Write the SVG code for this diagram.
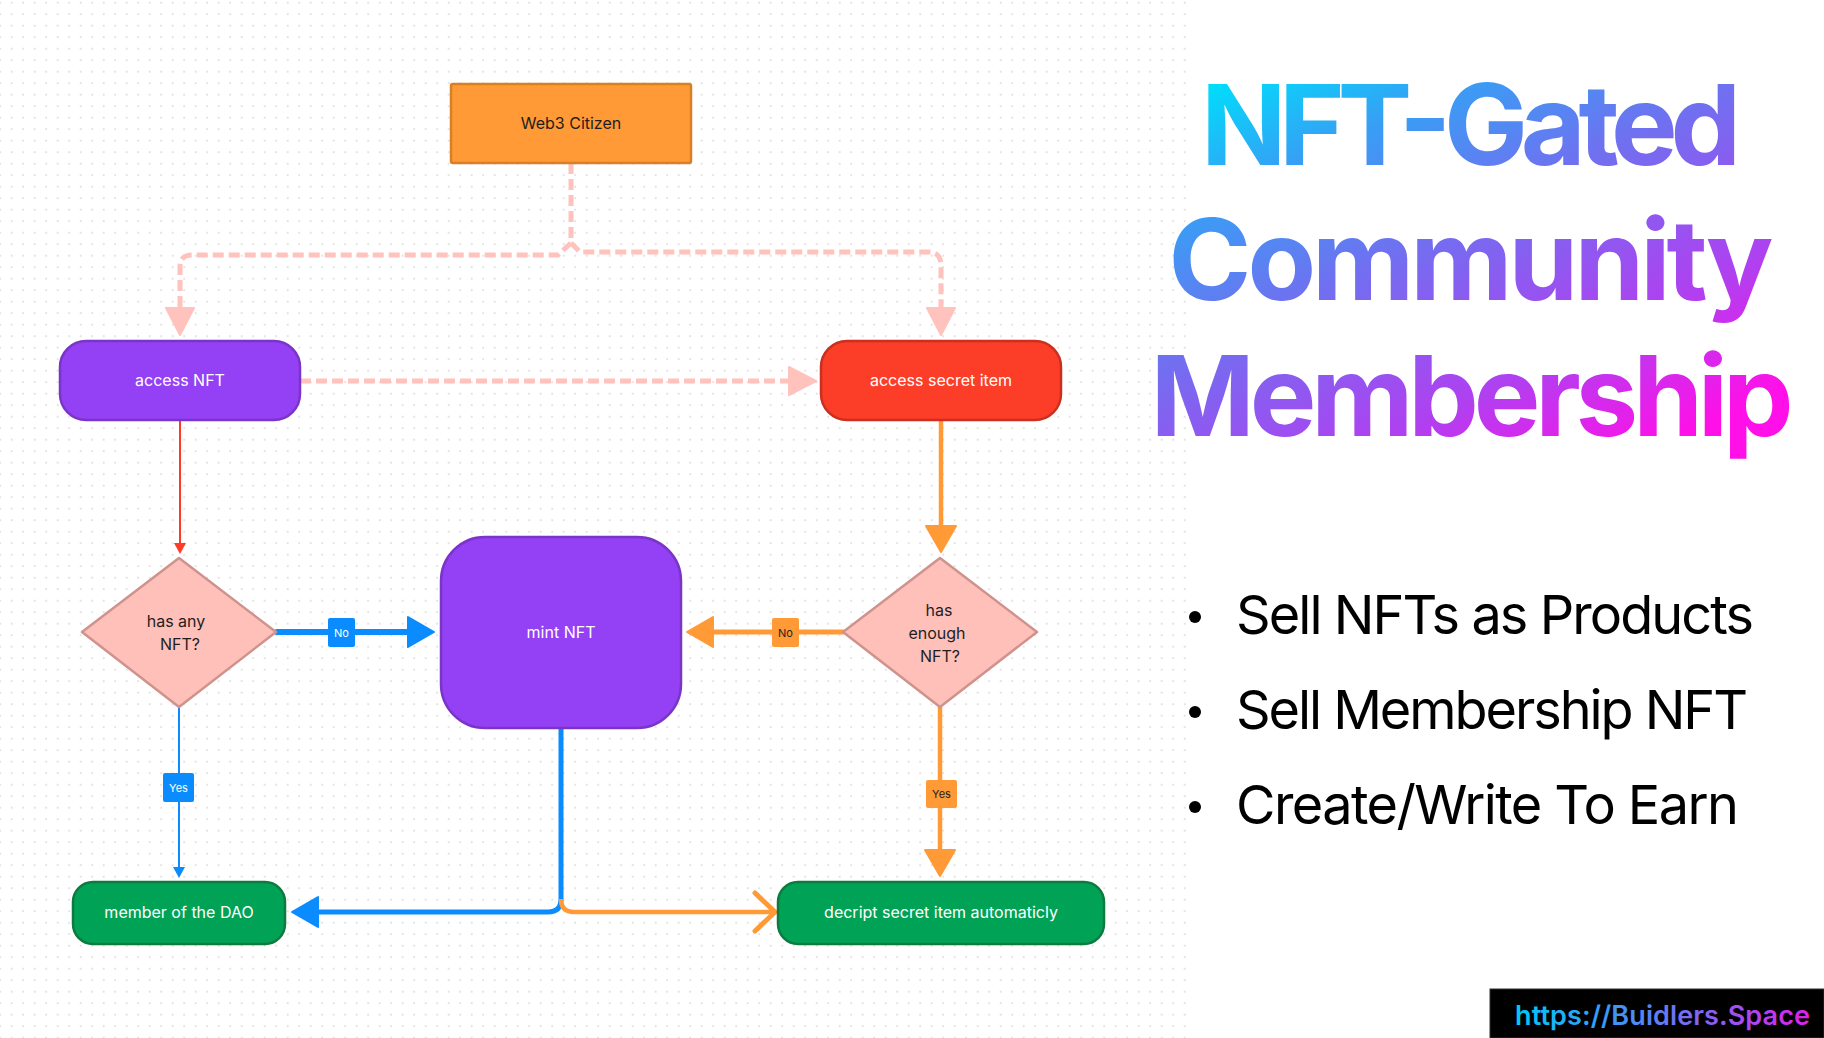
<svg xmlns="http://www.w3.org/2000/svg" width="1824" height="1038" viewBox="0 0 1824 1038">
<defs>
<pattern id="dots" patternUnits="userSpaceOnUse" x="5.95" y="-3.05" width="11.5" height="11.5">
<circle cx="5.75" cy="5.75" r="0.9" fill="#D6D6D6"/>
</pattern>
<linearGradient id="titleGrad" gradientUnits="userSpaceOnUse" x1="1200" y1="90" x2="1427" y2="560">
<stop offset="0" stop-color="#00DDFB"/>
<stop offset="0.2" stop-color="#36A0F5"/>
<stop offset="0.44" stop-color="#7070F0"/>
<stop offset="0.76" stop-color="#B040F0"/>
<stop offset="1" stop-color="#FF10E8"/>
</linearGradient>
<linearGradient id="urlGrad" gradientUnits="userSpaceOnUse" x1="1515" y1="0" x2="1810" y2="0">
<stop offset="0" stop-color="#00C8F8"/>
<stop offset="0.4" stop-color="#4A8CF5"/>
<stop offset="0.75" stop-color="#A050F0"/>
<stop offset="1" stop-color="#E020E8"/>
</linearGradient>
<marker id="mPink" markerUnits="userSpaceOnUse" markerWidth="32" markerHeight="34" refX="2" refY="16" orient="auto" viewBox="0 0 32 34">
<path d="M2,2 L29,16 L2,30 Z" fill="#FFC2BC" stroke="#FFC2BC" stroke-width="2" stroke-linejoin="round"/>
</marker>
<marker id="mBlue" markerUnits="userSpaceOnUse" markerWidth="32" markerHeight="34" refX="2" refY="17" orient="auto" viewBox="0 0 32 34">
<path d="M2,2 L28,17 L2,32 Z" fill="#0A8CFF" stroke="#0A8CFF" stroke-width="2" stroke-linejoin="round"/>
</marker>
<marker id="mOrange" markerUnits="userSpaceOnUse" markerWidth="32" markerHeight="34" refX="2" refY="17" orient="auto" viewBox="0 0 32 34">
<path d="M2,2 L28,17 L2,32 Z" fill="#FF9A36" stroke="#FF9A36" stroke-width="2" stroke-linejoin="round"/>
</marker>
<marker id="mRedS" markerUnits="userSpaceOnUse" markerWidth="14" markerHeight="14" refX="1" refY="7" orient="auto" viewBox="0 0 14 14">
<path d="M1,1 L12,7 L1,13 Z" fill="#FF3B28"/>
</marker>
<marker id="mBlueS" markerUnits="userSpaceOnUse" markerWidth="14" markerHeight="14" refX="1" refY="7" orient="auto" viewBox="0 0 14 14">
<path d="M1,1 L12,7 L1,13 Z" fill="#0A8CFF"/>
</marker>
<marker id="mOrangeOpen" markerUnits="userSpaceOnUse" markerWidth="30" markerHeight="46" refX="25" refY="23" orient="auto" viewBox="0 0 30 46">
<path d="M5,4 L25,23 L5,42" fill="none" stroke="#FF9A36" stroke-width="5" stroke-linecap="round" stroke-linejoin="round"/>
</marker>
</defs>
<style>
.lbl{font-family:Inter,"Liberation Sans",sans-serif;font-size:16px;text-anchor:middle}
.w{fill:#FFFFFF}
.d{fill:#1E1E1E}
.tag{font-family:Inter,"Liberation Sans",sans-serif;font-size:11px;text-anchor:middle}
.dash{fill:none;stroke:#FFC2BC;stroke-width:5;stroke-dasharray:11 5}
.diam{fill:#FFC0BA;stroke:#CF928C;stroke-width:2.5;stroke-linejoin:round}
.purple{fill:#9440F5;stroke:#7A35C8;stroke-width:2.5}
.green{fill:#00A356;stroke:#0D7A3F;stroke-width:2.5}
.title{font-family:Inter,"Liberation Sans",sans-serif;font-weight:700;font-size:112px;text-anchor:middle;fill:url(#titleGrad)}
.bullet{font-family:Inter,"Liberation Sans",sans-serif;font-size:54px;fill:#000}
</style>
<rect x="0" y="0" width="1824" height="1038" fill="#FFFFFF"/>
<rect x="0" y="0" width="1190" height="1038" fill="url(#dots)"/>

<g id="connectors">
<path class="dash" d="M571,163 V243 L558,255 H192 Q180,255 180,267 V308" marker-end="url(#mPink)"/>
<path class="dash" d="M571,243 L580,252 H928 Q941,252 941,265 V308" marker-end="url(#mPink)"/>
<path class="dash" d="M300,381 H789" marker-end="url(#mPink)"/>
<path d="M180,420 V543" fill="none" stroke="#FF3B28" stroke-width="2" marker-end="url(#mRedS)"/>
<path d="M941,420 V526" fill="none" stroke="#FF9A36" stroke-width="4.5" marker-end="url(#mOrange)"/>
<path d="M277,632 H408" fill="none" stroke="#0A8CFF" stroke-width="6" stroke-linecap="round" marker-end="url(#mBlue)"/>
<path d="M843,632 H713" fill="none" stroke="#FF9A36" stroke-width="5" stroke-linecap="round" marker-end="url(#mOrange)"/>
<path d="M179,707 V867" fill="none" stroke="#0A8CFF" stroke-width="2" marker-end="url(#mBlueS)"/>
<path d="M940,707 V850" fill="none" stroke="#FF9A36" stroke-width="4.5" marker-end="url(#mOrange)"/>
<path d="M561,728 V899 Q561,912 548,912 H318" fill="none" stroke="#0A8CFF" stroke-width="5" marker-end="url(#mBlue)"/>
<path d="M561,899 Q561,912 574,912 H775" fill="none" stroke="#FF9A36" stroke-width="4.5" marker-end="url(#mOrangeOpen)"/>
<g id="tag-no-1"><rect x="328" y="618" width="27" height="29" rx="2" fill="#0A8CFF"/><text class="tag w" x="341.5" y="636.5">No</text></g>
<g id="tag-no-2"><rect x="772" y="618" width="27" height="29" rx="2" fill="#FF9A36"/><text class="tag d" x="785.5" y="636.5">No</text></g>
<g id="tag-yes-1"><rect x="163" y="773" width="31" height="29" rx="2" fill="#0A8CFF"/><text class="tag w" x="178.5" y="791.5">Yes</text></g>
<g id="tag-yes-2"><rect x="926" y="780" width="31" height="28" rx="2" fill="#FF9A36"/><text class="tag d" x="941.5" y="798">Yes</text></g>
</g>

<g id="web3-citizen">
<rect x="451" y="84" width="240" height="79" fill="#FF9A36" stroke="#D98025" stroke-width="2.5" rx="2"/>
<text class="lbl d" x="571" y="129">Web3 Citizen</text>
</g>
<g id="access-nft">
<rect class="purple" x="60" y="341" width="240" height="79" rx="26"/>
<text class="lbl w" x="180" y="386">access NFT</text>
</g>
<g id="access-secret-item">
<rect x="821" y="341" width="240" height="79" rx="26" fill="#FC3D28" stroke="#C9301F" stroke-width="2.5"/>
<text class="lbl w" x="941" y="386">access secret item</text>
</g>
<g id="has-any-nft">
<polygon class="diam" points="179,558 276,632 179,707 82,632"/>
<text class="lbl d" x="176" y="627">has any</text>
<text class="lbl d" x="180" y="650">NFT?</text>
</g>
<g id="has-enough-nft">
<polygon class="diam" points="940,558 1037,632 940,707 843,632"/>
<text class="lbl d" x="939" y="616">has</text>
<text class="lbl d" x="937" y="639">enough</text>
<text class="lbl d" x="940" y="662">NFT?</text>
</g>
<g id="mint-nft">
<rect class="purple" x="441" y="537" width="240" height="191" rx="44"/>
<text class="lbl w" x="561" y="638">mint NFT</text>
</g>
<g id="member-dao">
<rect class="green" x="73" y="882" width="212" height="62" rx="20"/>
<text class="lbl w" x="179" y="918">member of the DAO</text>
</g>
<g id="decript-secret">
<rect class="green" x="778" y="882" width="326" height="62" rx="20"/>
<text class="lbl w" x="941" y="918">decript secret item automaticly</text>
</g>

<g id="title">
<text class="title" x="1471" y="165" textLength="540">NFT-Gated</text>
<text class="title" x="1471" y="300" textLength="605">Community</text>
<text class="title" x="1472" y="436" textLength="643">Membership</text>
</g>
<g id="bullets">
<circle cx="1195" cy="617" r="6" fill="#000"/>
<circle cx="1195" cy="712" r="6" fill="#000"/>
<circle cx="1195" cy="807" r="6" fill="#000"/>
<text class="bullet" x="1236" y="634" textLength="518">Sell NFTs as Products</text>
<text class="bullet" x="1236" y="729" textLength="512">Sell Membership NFT</text>
<text class="bullet" x="1236" y="824" textLength="503">Create/Write To Earn</text>
</g>
<g id="footer">
<rect x="1490" y="989" width="334" height="49" fill="#000" stroke="#333" stroke-width="1"/>
<text x="1515" y="1025" font-family="Inter,'Liberation Sans',sans-serif" font-weight="600" font-size="27" fill="url(#urlGrad)" textLength="295">https://Buidlers.Space</text>
</g>
</svg>
